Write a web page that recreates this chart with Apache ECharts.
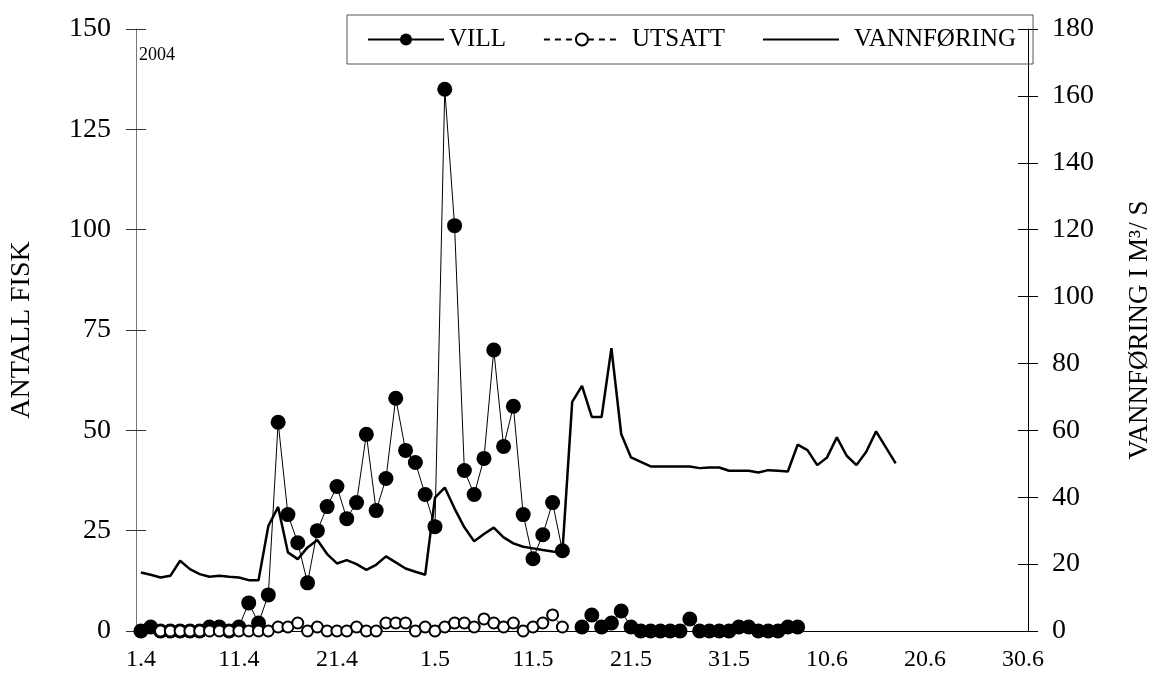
<!DOCTYPE html>
<html>
<head>
<meta charset="utf-8">
<script src="https://cdn.jsdelivr.net/npm/echarts@6/dist/echarts.min.js"></script>
<style>
html,body{margin:0;padding:0;background:#fff;}
#chart{width:1161px;height:679px;}
</style>
</head>
<body>
<div id="chart"></div>
<script>
const categories = [
 "1.4","2.4","3.4","4.4","5.4","6.4","7.4","8.4","9.4","10.4",
 "11.4","12.4","13.4","14.4","15.4","16.4","17.4","18.4","19.4","20.4",
 "21.4","22.4","23.4","24.4","25.4","26.4","27.4","28.4","29.4","30.4",
 "1.5","2.5","3.5","4.5","5.5","6.5","7.5","8.5","9.5","10.5",
 "11.5","12.5","13.5","14.5","15.5","16.5","17.5","18.5","19.5","20.5",
 "21.5","22.5","23.5","24.5","25.5","26.5","27.5","28.5","29.5","30.5","31.5",
 "1.6","2.6","3.6","4.6","5.6","6.6","7.6","8.6","9.6","10.6",
 "11.6","12.6","13.6","14.6","15.6","16.6","17.6","18.6","19.6","20.6",
 "21.6","22.6","23.6","24.6","25.6","26.6","27.6","28.6","29.6","30.6"
];

// VILL (wild fish), one value per day from 1.4
const vill = [
 0,1,0,0,0,0,0,1,1,0,
 1,7,2,9,52,29,22,12,25,31,
 36,28,32,49,30,38,58,45,42,34,
 26,135,101,40,34,43,70,46,56,29,
 18,24,32,20,null,1,4,1,2,5,
 1,0,0,0,0,0,3,0,0,0,
 0,1,1,0,0,0,1,1
];

// UTSATT (stocked fish), from 1.4 (no counts on 1.4 and 2.4)
const utsatt = [
 null,null,0,0,0,0,0,0,0,0,
 0,0,0,0,1,1,2,0,1,0,
 0,0,1,0,0,2,2,2,0,1,
 0,1,2,2,1,3,2,1,2,0,
 1,2,4,1
];

// VANNFØRING (water discharge, m3/s), from 1.4
const vannforing = [
 17.5,16.8,16.0,16.5,21.0,18.5,17.0,16.2,16.5,16.2,
 16.0,15.2,15.2,31.4,37.1,23.5,21.5,25.0,27.2,23.0,
 20.2,21.2,20.0,18.3,19.8,22.3,20.5,18.7,17.7,16.8,
 39.9,42.9,36.6,31.0,26.8,29.0,30.9,28.0,26.2,25.2,
 24.7,24.2,23.8,23.5,68.5,73.3,64.0,64.0,84.6,58.9,
 51.9,50.6,49.2,49.2,49.2,49.2,49.2,48.7,48.9,48.9,
 47.9,47.9,47.9,47.4,48.1,47.9,47.7,55.7,54.1,49.6,
 51.9,57.9,52.4,49.6,53.6,59.7,54.9,50.1
];

const leftTicks = {min: 0, max: 150, interval: 25};
const rightTicks = {min: 0, max: 180, interval: 20};

const FONT = '"Liberation Serif", "DejaVu Serif", serif';

const chart = echarts.init(document.getElementById('chart'), null, {renderer: 'canvas'});

const option = {
  animation: false,
  backgroundColor: '#fff',
  textStyle: {fontFamily: FONT, color: '#000'},
  title: {
    text: '2004', left: 134, top: 41,
    textStyle: {fontFamily: FONT, fontSize: 18, fontWeight: 'normal', color: '#000'}
  },
  grid: {left: 125, right: 112, top: 29, bottom: 48, containLabel: false},
  legend: {
    left: 347, top: 15,
    padding: [12, 17, 12, 20],
    borderColor: '#555', borderWidth: 1,
    itemWidth: 76, itemHeight: 15, itemGap: 37,
    textStyle: {fontFamily: FONT, fontSize: 25, color: '#000'},
    data: [
      {name: 'VILL'},
      {name: 'UTSATT', textStyle: {padding: [0, 0, 0, 7]}},
      {name: 'VANNFØRING', itemStyle: {opacity: 0}, textStyle: {padding: [0, 0, 0, 10]}}
    ]
  },
  xAxis: {
    type: 'category',
    data: categories,
    boundaryGap: true,
    axisLine: {lineStyle: {color: '#000', width: 1}},
    axisTick: {interval: 4, length: 7, lineStyle: {color: '#000'}},
    axisLabel: {interval: 9, fontSize: 24, margin: 17, fontFamily: FONT, color: '#000'},
    splitLine: {show: false}
  },
  yAxis: [
    {
      type: 'value', position: 'left', min: leftTicks.min, max: leftTicks.max, interval: leftTicks.interval,
      name: 'ANTALL FISK', nameLocation: 'middle', nameGap: 100, nameRotate: 90,
      nameTextStyle: {fontFamily: FONT, fontSize: 28, color: '#000'},
      axisLine: {show: true, lineStyle: {color: '#777', width: 1}},
      axisTick: {show: true, inside: false, length: 10, lineStyle: {color: '#333'}},
      axisLabel: {fontSize: 28, margin: 25, fontFamily: FONT, color: '#000'},
      splitLine: {show: false}
    },
    {
      type: 'value', position: 'right', min: rightTicks.min, max: rightTicks.max, interval: rightTicks.interval,
      name: 'VANNFØRING I M³/ S', nameLocation: 'middle', nameGap: 98, nameRotate: 90,
      nameTextStyle: {fontFamily: FONT, fontSize: 27, color: '#000'},
      axisLine: {show: true, lineStyle: {color: '#000', width: 1}},
      axisTick: {show: true, inside: false, length: 10, lineStyle: {color: '#000'}},
      axisLabel: {fontSize: 28, margin: 24, fontFamily: FONT, color: '#000'},
      splitLine: {show: false}
    },
    {
      type: 'value', position: 'left', min: leftTicks.min, max: leftTicks.max, interval: leftTicks.interval,
      axisLine: {show: false},
      axisTick: {show: true, inside: true, length: 10, lineStyle: {color: '#333'}},
      axisLabel: {show: false}, splitLine: {show: false}
    },
    {
      type: 'value', position: 'right', min: rightTicks.min, max: rightTicks.max, interval: rightTicks.interval,
      axisLine: {show: false},
      axisTick: {show: true, inside: true, length: 10, lineStyle: {color: '#000'}},
      axisLabel: {show: false}, splitLine: {show: false}
    }
  ],
  series: [
    {
      name: 'VANNFØRING', type: 'line', yAxisIndex: 1, data: vannforing,
      symbol: 'none', showSymbol: false,
      lineStyle: {color: '#000', width: 2.5},
      itemStyle: {color: '#000'},
      z: 2
    },
    {
      name: 'VILL', type: 'line', yAxisIndex: 0, data: vill,
      connectNulls: false,
      symbol: 'circle', symbolSize: 15, showAllSymbol: true,
      lineStyle: {color: '#000', width: 1},
      itemStyle: {color: '#000'},
      z: 3
    },
    {
      name: 'UTSATT', type: 'line', yAxisIndex: 0, data: utsatt,
      connectNulls: false,
      symbol: 'emptyCircle', symbolSize: 11, showAllSymbol: true,
      lineStyle: {color: '#000', width: 1, type: [6, 5]},
      itemStyle: {color: '#000', borderColor: '#000', borderWidth: 2},
      z: 4
    }
  ]
};
chart.setOption(option);
</script>
</body>
</html>
